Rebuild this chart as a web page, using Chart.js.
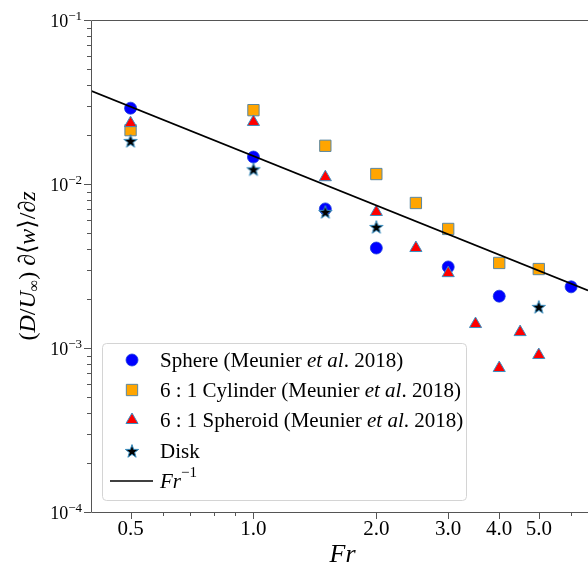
<!DOCTYPE html>
<html>
<head>
<meta charset="utf-8">
<script src="https://cdn.jsdelivr.net/npm/chart.js@4.4.1/dist/chart.umd.min.js"></script>
<style>
  html, body { margin: 0; padding: 0; background: #fff; }
  #wrap { width: 588px; height: 564px; }
</style>
</head>
<body>
<div id="wrap"><canvas id="gradChart" width="588" height="564"></canvas></div>
<script>
// vertical gradient of mean wake velocity vs Froude number
const sphereFr = [0.5, 1.0, 1.5, 2.0, 3.0, 4.0, 6.0];
const sphereGrad = [0.0290, 0.0146, 0.00705, 0.00407, 0.00312, 0.00207, 0.00236];

const cylinderFr = [0.5, 1.0, 1.5, 2.0, 2.5, 3.0, 4.0, 5.0];
const cylinderGrad = [0.0213, 0.0282, 0.0171, 0.0115, 0.00766, 0.00532, 0.00330, 0.00303];

const spheroidFr = [0.5, 1.0, 1.5, 2.0, 2.5, 3.0, 3.5, 4.0, 4.5, 5.0];
const spheroidGrad = [0.0235, 0.0239, 0.0110, 0.00675, 0.00407, 0.00286, 0.00140, 0.000755, 0.00125, 0.000906];

const diskFr = [0.5, 1.0, 1.5, 2.0, 5.0];
const diskGrad = [0.0183, 0.0123, 0.00675, 0.00547, 0.00178];

// Fr^-1 reference line
const fitCoef = 0.0148;
const fitFr = [0.4, 6.6];

const xTicks = [0.5, 1.0, 2.0, 3.0, 4.0, 5.0];
const xTickLabels = ['0.5', '1.0', '2.0', '3.0', '4.0', '5.0'];
const xMinor = [0.6, 0.7, 0.8, 0.9, 6.0];
const yTicks = [1e-1, 1e-2, 1e-3, 1e-4];
const yTickExp = ['\u22121', '\u22122', '\u22123', '\u22124'];

const serif = '"Liberation Serif", "DejaVu Serif", serif';
const axisGray = '#555555';
const edgeBlue = '#3a8fc2';

const pts = (xs, ys) => xs.map((v, i) => ({ x: v, y: ys[i] }));

function makeStar(size, fill, edge) {
  const c = document.createElement('canvas');
  c.width = c.height = size;
  const g = c.getContext('2d');
  const cx = size / 2, cy = size / 2 + 0.6;
  const R = size / 2 - 1, r = R * 0.4;
  g.beginPath();
  for (let i = 0; i < 10; i++) {
    const a = -Math.PI / 2 + i * Math.PI / 5;
    const rad = i % 2 ? r : R;
    g.lineTo(cx + rad * Math.cos(a), cy + rad * Math.sin(a));
  }
  g.closePath();
  g.fillStyle = fill;
  g.fill();
  g.lineWidth = 1;
  g.strokeStyle = edge;
  g.stroke();
  return c;
}
const starImg = makeStar(16, '#000000', edgeBlue);

// text made of runs: [text, italic, size, rise]
function runsWidth(ctx, runs) {
  let w = 0;
  for (const [t, it, sz] of runs) {
    ctx.font = (it ? 'italic ' : '') + sz + 'px ' + serif;
    w += ctx.measureText(t).width;
  }
  return w;
}
function drawRuns(ctx, runs, x, y, align) {
  const w = runsWidth(ctx, runs);
  let cx = align === 'center' ? x - w / 2 : align === 'right' ? x - w : x;
  ctx.textAlign = 'left';
  for (const [t, it, sz, rise] of runs) {
    ctx.font = (it ? 'italic ' : '') + sz + 'px ' + serif;
    ctx.fillText(t, cx, y - (rise || 0));
    cx += ctx.measureText(t).width;
  }
}

const legendRows = [
  { ds: 1, runs: [['Sphere (Meunier ', 0, 21], ['et al', 1, 21], ['. 2018)', 0, 21]] },
  { ds: 2, runs: [['6 : 1 Cylinder (Meunier ', 0, 21], ['et al', 1, 21], ['. 2018)', 0, 21]] },
  { ds: 3, runs: [['6 : 1 Spheroid (Meunier ', 0, 21], ['et al', 1, 21], ['. 2018)', 0, 21]] },
  { ds: 4, runs: [['Disk', 0, 21]] },
  { ds: 0, runs: [['Fr', 1, 21], ['\u22121', 0, 15, 9]] }
];

const framePlugin = {
  id: 'frame',
  afterDraw(chart) {
    const { ctx, chartArea: a, scales: { x, y } } = chart;
    ctx.save();
    ctx.strokeStyle = axisGray;
    ctx.lineWidth = 1;
    ctx.beginPath();
    ctx.moveTo(a.left + 0.5, a.top + 0.5);
    ctx.lineTo(a.left + 0.5, a.bottom + 0.5);
    ctx.lineTo(a.right, a.bottom + 0.5);
    ctx.moveTo(a.left + 0.5, a.top + 0.5);
    ctx.lineTo(a.right, a.top + 0.5);
    ctx.stroke();

    // x ticks
    ctx.beginPath();
    xTicks.forEach(v => {
      const px = Math.round(x.getPixelForValue(v)) + 0.5;
      ctx.moveTo(px, a.bottom); ctx.lineTo(px, a.bottom + 7);
    });
    xMinor.forEach(v => {
      const px = Math.round(x.getPixelForValue(v)) + 0.5;
      ctx.moveTo(px, a.bottom); ctx.lineTo(px, a.bottom + 4);
    });
    // y ticks
    yTicks.forEach(v => {
      const py = Math.round(y.getPixelForValue(v)) + 0.5;
      ctx.moveTo(a.left - 7, py); ctx.lineTo(a.left, py);
    });
    [1e-4, 1e-3, 1e-2].forEach(dec => {
      for (let m = 2; m <= 9; m++) {
        const py = Math.round(y.getPixelForValue(m * dec)) + 0.5;
        ctx.moveTo(a.left - 4, py); ctx.lineTo(a.left, py);
      }
    });
    ctx.stroke();

    ctx.fillStyle = '#000';
    ctx.textBaseline = 'alphabetic';
    xTicks.forEach((v, i) => {
      drawRuns(ctx, [[xTickLabels[i], 0, 21]], x.getPixelForValue(v), a.bottom + 23, 'center');
    });
    yTicks.forEach((v, i) => {
      const py = y.getPixelForValue(v);
      drawRuns(ctx, [['10', 0, 18], [yTickExp[i], 0, 13, 7]], a.left - 9, py + 7, 'right');
    });

    // axis titles
    drawRuns(ctx, [['Fr', 1, 26]], (a.left + a.right) / 2 + 3, a.bottom + 50, 'center');
    ctx.save();
    ctx.translate(35, (a.top + a.bottom) / 2);
    ctx.rotate(-Math.PI / 2);
    drawRuns(ctx, [
      ['(', 0, 24], ['D', 1, 24], ['/', 0, 24], ['U', 1, 24], ['\u221E', 0, 16, -4], [')', 0, 24],
      [' \u2202\u27E8', 0, 24], ['w', 1, 24], ['\u27E9/\u2202', 0, 24], ['z', 1, 24]
    ], 0, 0, 'center');
    ctx.restore();

    // legend box
    const bx = 102.5, by = 343.5, bw = 364, bh = 157, br = 4;
    ctx.beginPath();
    ctx.roundRect(bx, by, bw, bh, br);
    ctx.fillStyle = 'rgba(255,255,255,0.85)';
    ctx.fill();
    ctx.strokeStyle = '#d4d4d4';
    ctx.stroke();

    const rowY = [360, 390, 420, 451, 481];
    legendRows.forEach((row, i) => {
      const ds = chart.data.datasets[row.ds];
      const yy = rowY[i];
      if (row.ds === 0) {
        ctx.beginPath();
        ctx.moveTo(110, yy); ctx.lineTo(153, yy);
        ctx.strokeStyle = ds.borderColor;
        ctx.lineWidth = ds.borderWidth;
        ctx.stroke();
      } else {
        ctx.fillStyle = ds.backgroundColor;
        ctx.strokeStyle = ds.borderColor;
        ctx.lineWidth = ds.borderWidth;
        Chart.helpers.drawPoint(ctx, {
          pointStyle: ds.pointStyle, radius: ds.pointRadius, rotation: 0, borderWidth: ds.borderWidth
        }, 132, yy);
      }
      ctx.fillStyle = '#000';
      ctx.textBaseline = 'middle';
      drawRuns(ctx, row.runs, 160, yy + 1, 'left');
    });
    ctx.restore();
  }
};

new Chart(document.getElementById('gradChart'), {
  type: 'scatter',
  data: {
    datasets: [
      {
        label: 'Fr^-1',
        data: fitFr.map(v => ({ x: v, y: fitCoef / v })),
        showLine: true, borderColor: '#000000', borderWidth: 1.6,
        pointRadius: 0, order: 0
      },
      {
        label: 'Sphere',
        data: pts(sphereFr, sphereGrad),
        pointStyle: 'circle', pointRadius: 6,
        backgroundColor: '#0000ff', borderColor: '#1a3fe0', borderWidth: 0.8, order: 4
      },
      {
        label: '6:1 Cylinder',
        data: pts(cylinderFr, cylinderGrad),
        pointStyle: 'rect', pointRadius: 8,
        backgroundColor: '#ffa500', borderColor: '#5a87a0', borderWidth: 1, order: 3
      },
      {
        label: '6:1 Spheroid',
        data: pts(spheroidFr, spheroidGrad),
        pointStyle: 'triangle', pointRadius: 7,
        backgroundColor: '#ff0000', borderColor: edgeBlue, borderWidth: 1, order: 2
      },
      {
        label: 'Disk',
        data: pts(diskFr, diskGrad),
        pointStyle: starImg, pointRadius: 8,
        backgroundColor: '#000000', borderColor: edgeBlue, borderWidth: 1, order: 1
      }
    ]
  },
  options: {
    responsive: false,
    animation: false,
    devicePixelRatio: 1,
    layout: { autoPadding: false, padding: { left: 91, top: 20, right: 0, bottom: 52 } },
    plugins: { legend: { display: false }, tooltip: { enabled: false } },
    scales: {
      x: { type: 'logarithmic', min: 0.4, max: 6.6, display: false },
      y: { type: 'logarithmic', min: 1e-4, max: 1e-1, display: false }
    }
  },
  plugins: [framePlugin]
});
</script>
</body>
</html>
